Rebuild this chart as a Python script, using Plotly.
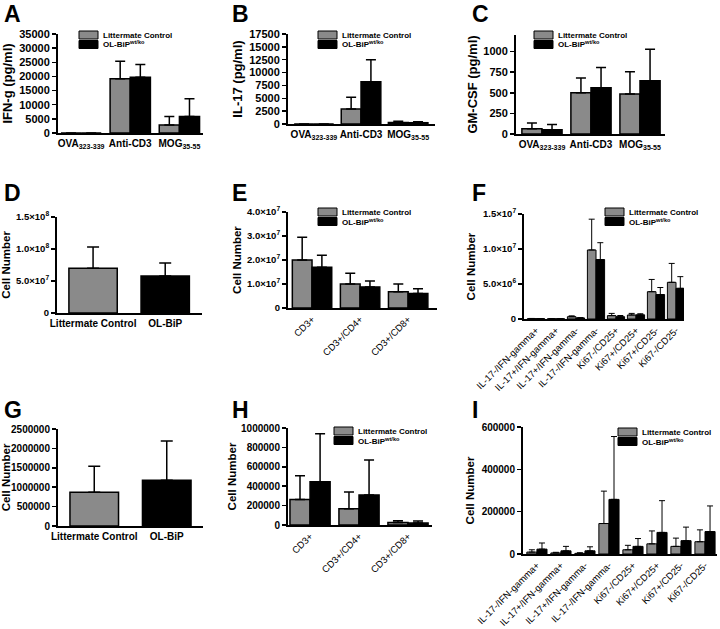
import plotly.graph_objects as go

W, H = 720, 629
LC_COLOR = "#8a8a8a"
OL_COLOR = "#000000"
FONT = "Liberation Sans, Arial, sans-serif"

# ---------------- data ----------------
series_names = ["Littermate Control", "OL-BiP<sup>wt/ko</sup>"]

cyto_cats = ["OVA<sub>323-339</sub>", "Anti-CD3", "MOG<sub>35-55</sub>"]
ifng_lc = [0, 19200, 2800]
ifng_lc_err = [0, 6200, 3000]
ifng_ol = [0, 19700, 5800]
ifng_ol_err = [0, 4500, 6300]

il17_lc = [0, 2900, 300]
il17_lc_err = [0, 2300, 250]
il17_ol = [0, 8200, 250]
il17_ol_err = [0, 4300, 200]

gmcsf_lc = [65, 500, 484]
gmcsf_lc_err = [69, 179, 272]
gmcsf_ol = [53, 561, 646]
gmcsf_ol_err = [61, 244, 382]

total_cats = ["Littermate Control", "OL-BiP"]
total_spleen = [7.0e7, 5.8e7]
total_spleen_err = [3.3e7, 2.0e7]

tcell_cats = ["CD3+", "CD3+/CD4+", "CD3+/CD8+"]
tcell_spleen_lc = [2.0e7, 1.0e7, 0.68e7]
tcell_spleen_lc_err = [0.95e7, 0.45e7, 0.32e7]
tcell_spleen_ol = [1.7e7, 0.88e7, 0.6e7]
tcell_spleen_ol_err = [0.5e7, 0.24e7, 0.2e7]

subset_cats = ["IL-17-/IFN-gamma+", "IL-17+/IFN-gamma+", "IL-17+/IFN-gamma-",
               "IL-17-/IFN-gamma-", "Ki67-/CD25+", "Ki67+/CD25+",
               "Ki67+/CD25-", "Ki67-/CD25-"]
subset_spleen_lc = [0.05e6, 0.03e6, 0.33e6, 9.86e6, 0.48e6, 0.57e6, 3.9e6, 5.24e6]
subset_spleen_lc_err = [0.03e6, 0.02e6, 0.12e6, 4.4e6, 0.32e6, 0.23e6, 1.75e6, 2.7e6]
subset_spleen_ol = [0.05e6, 0.03e6, 0.15e6, 8.5e6, 0.33e6, 0.6e6, 3.5e6, 4.38e6]
subset_spleen_ol_err = [0.02e6, 0.02e6, 0.05e6, 2.4e6, 0.17e6, 0.15e6, 1.0e6, 1.67e6]

total_cns = [0.87e6, 1.18e6]
total_cns_err = [0.67e6, 1.01e6]

tcell_cns_lc = [264000, 168000, 27000]
tcell_cns_lc_err = [243000, 172000, 18000]
tcell_cns_ol = [445000, 310000, 20000]
tcell_cns_ol_err = [495000, 360000, 20000]

subset_cns_lc = [9000, 5000, 3000, 144000, 20000, 48000, 36000, 58000]
subset_cns_lc_err = [11000, 3000, 3000, 153000, 21000, 61000, 39000, 56000]
subset_cns_ol = [23000, 15000, 15000, 258000, 36000, 102000, 63000, 106000]
subset_cns_ol_err = [29000, 21000, 19000, 297000, 37000, 150000, 64000, 121000]

# tick labels
ifng_ticks = [0, 5000, 10000, 15000, 20000, 25000, 30000, 35000]
il17_ticks = [0, 2500, 5000, 7500, 10000, 12500, 15000, 17500]
gmcsf_ticks = [0, 250, 500, 750, 1000]
spleen_total_ticks = [0, 5e7, 1e8, 1.5e8]
spleen_total_text = ["0", "5.0×10<sup>7</sup>", "1.0×10<sup>8</sup>", "1.5×10<sup>8</sup>"]
spleen_tcell_ticks = [0, 1e7, 2e7, 3e7, 4e7]
spleen_tcell_text = ["0", "1.0×10<sup>7</sup>", "2.0×10<sup>7</sup>", "3.0×10<sup>7</sup>", "4.0×10<sup>7</sup>"]
spleen_subset_ticks = [0, 5e6, 1e7, 1.5e7]
spleen_subset_text = ["0", "5.0×10<sup>6</sup>", "1.0×10<sup>7</sup>", "1.5×10<sup>7</sup>"]
cns_total_ticks = [0, 500000, 1000000, 1500000, 2000000, 2500000]
cns_tcell_ticks = [0, 200000, 400000, 600000, 800000, 1000000]
cns_subset_ticks = [0, 200000, 400000, 600000]

# ---------------- panel layout (pixel boxes) ----------------
panels = [
    dict(letter="A", box=(58, 203, 34, 133), xr=(-0.47, 2.48), ymax=35000, w=0.41,
         cats=cyto_cats, kind="pair", lc=(ifng_lc, ifng_lc_err), ol=(ifng_ol, ifng_ol_err),
         ticks=ifng_ticks, ticktext=None, title="IFN-g (pg/ml)", tsize=13, stand=7, angle=0,
         legend=(79, 35), lpos=(2, 14), capw=5, lw=1.5, xfont=10, yfont=11),
    dict(letter="B", box=(288, 435, 34, 124), xr=(-0.55, 2.57), ymax=17500, w=0.42,
         cats=cyto_cats, kind="pair", lc=(il17_lc, il17_lc_err), ol=(il17_ol, il17_ol_err),
         ticks=il17_ticks, ticktext=None, title="IL-17 (pg/ml)", tsize=13, stand=4, angle=0,
         legend=(318, 35), lpos=(230, 14), capw=5, lw=1.5, xfont=10, yfont=11),
    dict(letter="C", box=(516, 665, 35, 134), xr=(-0.53, 2.51), ymax=1200, w=0.41,
         cats=cyto_cats, kind="pair", lc=(gmcsf_lc, gmcsf_lc_err), ol=(gmcsf_ol, gmcsf_ol_err),
         ticks=gmcsf_ticks, ticktext=None, title="GM-CSF (pg/ml)", tsize=13, stand=3, angle=0,
         legend=(534, 35), lpos=(470, 14), capw=5, lw=1.5, xfont=10, yfont=11),
    dict(letter="D", box=(57, 202, 217, 313), xr=(-0.5, 1.51), ymax=1.5e8, w=0.67,
         cats=total_cats, kind="single", vals=(total_spleen, total_spleen_err),
         ticks=spleen_total_ticks, ticktext=spleen_total_text, title="Cell Number",
         tsize=11.5, stand=4, angle=0,
         legend=None, lpos=(2, 193), capw=6, lw=1.5, xfont=10, yfont=9.5),
    dict(letter="E", box=(288, 437, 212, 308), xr=(-0.5, 2.6), ymax=4e7, w=0.41,
         cats=tcell_cats, kind="pair", lc=(tcell_spleen_lc, tcell_spleen_lc_err),
         ol=(tcell_spleen_ol, tcell_spleen_ol_err),
         ticks=spleen_tcell_ticks, ticktext=spleen_tcell_text, title="Cell Number",
         tsize=11.5, stand=3, angle=-45,
         legend=(318, 212), lpos=(230, 193), capw=5, lw=1.5, xfont=9.5, yfont=9.5),
    dict(letter="F", box=(524, 684, 214, 319), xr=(-0.6, 7.4), ymax=1.5e7, w=0.43,
         cats=subset_cats, kind="pair", lc=(subset_spleen_lc, subset_spleen_lc_err),
         ol=(subset_spleen_ol, subset_spleen_ol_err),
         ticks=spleen_subset_ticks, ticktext=spleen_subset_text, title="Cell Number",
         tsize=11.5, stand=5, angle=-45,
         legend=(605, 212), lpos=(470, 193), capw=3, lw=1, xfont=9.5, yfont=9.5),
    dict(letter="G", box=(58, 203, 429, 526), xr=(-0.5, 1.5), ymax=2.5e6, w=0.67,
         cats=total_cats, kind="single", vals=(total_cns, total_cns_err),
         ticks=cns_total_ticks, ticktext=None, title="Cell Number", tsize=11.5, stand=3, angle=0,
         legend=None, lpos=(2, 410), capw=6, lw=1.5, xfont=10, yfont=10),
    dict(letter="H", box=(288, 432, 428, 525), xr=(-0.45, 2.49), ymax=1e6, w=0.41,
         cats=tcell_cats, kind="pair", lc=(tcell_cns_lc, tcell_cns_lc_err),
         ol=(tcell_cns_ol, tcell_cns_ol_err),
         ticks=cns_tcell_ticks, ticktext=None, title="Cell Number", tsize=11.5, stand=2, angle=-45,
         legend=(334, 431), lpos=(230, 410), capw=5, lw=1.5, xfont=9.5, yfont=10),
    dict(letter="I", box=(523, 717, 427, 554), xr=(-0.58, 7.5), ymax=6e5, w=0.42,
         cats=subset_cats, kind="pair", lc=(subset_cns_lc, subset_cns_lc_err),
         ol=(subset_cns_ol, subset_cns_ol_err),
         ticks=cns_subset_ticks, ticktext=None, title="Cell Number", tsize=11.5, stand=5, angle=-45,
         legend=(618, 432), lpos=(470, 410), capw=3, lw=1, xfont=9.5, yfont=10),
]

fig = go.Figure()
layout = dict(
    width=W, height=H, margin=dict(l=0, r=0, t=0, b=0),
    paper_bgcolor="white", plot_bgcolor="white",
    font=dict(family=FONT, color="black"),
    barmode="overlay", showlegend=False, annotations=[], shapes=[],
)


def err(arr, width, lw):
    return dict(type="data", array=arr, arrayminus=[0] * len(arr), symmetric=False,
                color="black", thickness=lw, width=width, visible=True)


def px_x(v):
    return v / W


def px_y(v):
    return 1 - v / H


for i, p in enumerate(panels, start=1):
    sfx = "" if i == 1 else str(i)
    xa, ya = "x" + sfx, "y" + sfx
    x0, x1, y0, y1 = p["box"]
    if p["kind"] == "pair":
        for name, (vals, errs), col, off in [
            (series_names[0], p["lc"], LC_COLOR, -p["w"]),
            (series_names[1], p["ol"], OL_COLOR, 0.0),
        ]:
            fig.add_trace(go.Bar(
                x=p["cats"], y=vals, name=name, xaxis=xa, yaxis=ya,
                width=p["w"], offset=off, showlegend=False,
                marker=dict(color=col, line=dict(color="black", width=p["lw"])),
                error_y=err(errs, p["capw"], p["lw"]),
            ))
    else:
        vals, errs = p["vals"]
        fig.add_trace(go.Bar(
            x=p["cats"], y=vals, xaxis=xa, yaxis=ya, width=p["w"],
            offset=-p["w"] / 2, showlegend=False,
            marker=dict(color=[LC_COLOR, OL_COLOR], line=dict(color="black", width=p["lw"])),
            error_y=err(errs, p["capw"], p["lw"]),
        ))

    layout["xaxis" + sfx] = dict(
        domain=[x0 / W, x1 / W], anchor=ya, range=list(p["xr"]),
        type="category", categoryorder="array", categoryarray=p["cats"],
        showline=True, linecolor="black", linewidth=2, ticks="",
        showgrid=False, zeroline=False, tickangle=p["angle"], automargin=False,
        tickfont=dict(size=p["xfont"], family=FONT, color="black",
                      weight=("normal" if p["angle"] else "bold")),
        fixedrange=True,
    )
    ya_dict = dict(
        domain=[1 - y1 / H, 1 - y0 / H], anchor=xa, range=[0, p["ymax"]],
        tickvals=p["ticks"], tickformat="d", showline=True, linecolor="black", linewidth=2,
        ticks="outside", ticklen=4, tickwidth=1.5, tickcolor="black",
        showgrid=False, zeroline=False, automargin=False, fixedrange=True,
        tickfont=dict(size=p["yfont"], family=FONT, weight="bold", color="black"),
        title=dict(text=p["title"], standoff=p["stand"],
                   font=dict(size=p["tsize"], family=FONT, weight="bold", color="black")),
    )
    if p["ticktext"] is not None:
        ya_dict["ticktext"] = p["ticktext"]
    layout["yaxis" + sfx] = ya_dict

    # legend: swatch + label per series
    if p["legend"] is not None:
        lx, ly = p["legend"]
        for k, (name, col) in enumerate(zip(series_names, [LC_COLOR, OL_COLOR])):
            cy = ly + k * 9.5
            layout["shapes"].append(dict(
                type="rect", xref="paper", yref="paper",
                x0=px_x(lx), x1=px_x(lx + 19), y0=px_y(cy + 4), y1=px_y(cy - 4),
                fillcolor=col, line=dict(color="black", width=1),
            ))
            layout["annotations"].append(dict(
                text=name, x=px_x(lx + 22), y=px_y(cy), xref="paper", yref="paper",
                xanchor="left", yanchor="middle", showarrow=False,
                font=dict(size=8, family=FONT, weight="bold", color="black"),
            ))

    lx, ly = p["lpos"]
    layout["annotations"].append(dict(
        text=p["letter"], x=lx / W, y=1 - ly / H, xref="paper", yref="paper",
        xanchor="left", yanchor="middle", showarrow=False,
        font=dict(size=23, family=FONT, weight="bold", color="black"),
    ))

fig.update_layout(**layout)
fig.write_html("out.html", config={"displayModeBar": False, "staticPlot": True},
               post_script="document.body.style.margin='0';")
